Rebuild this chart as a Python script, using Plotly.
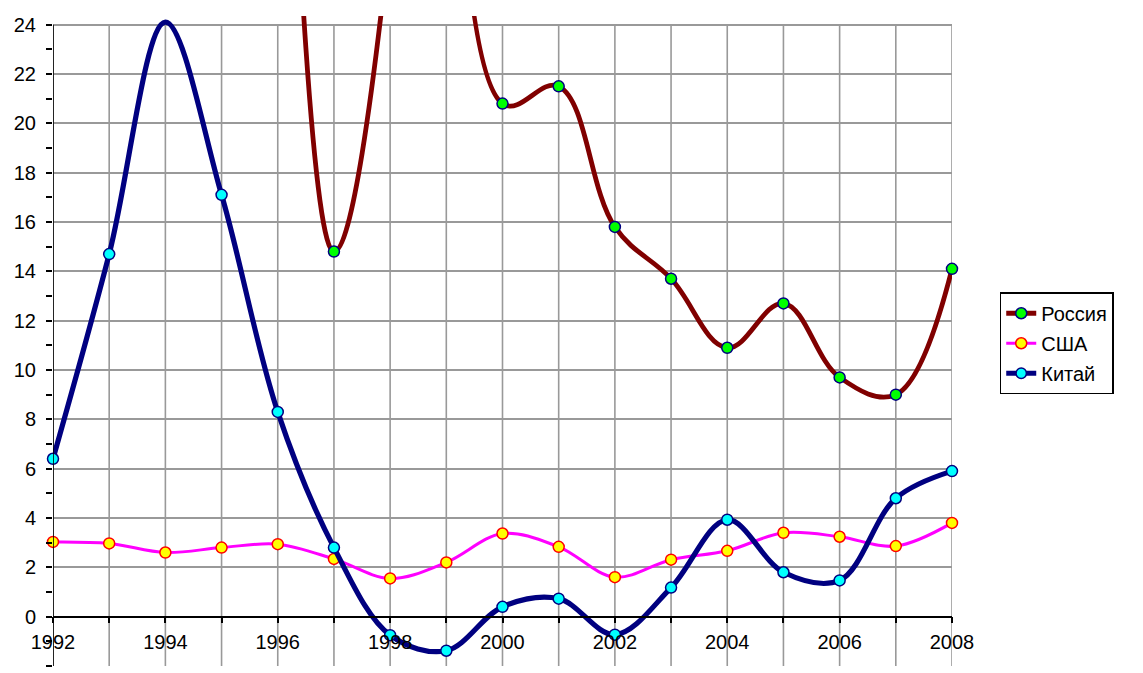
import plotly.graph_objects as go

years = list(range(1992, 2009))
russia = [None, None, None, None, 47.7, 14.8, 27.7, 85.7, 20.8, 21.5, 15.8, 13.7, 10.9, 12.7, 9.7, 9.0, 14.1]
usa = [3.03, 2.97, 2.6, 2.8, 2.94, 2.34, 1.55, 2.2, 3.37, 2.83, 1.6, 2.31, 2.67, 3.4, 3.24, 2.86, 3.8]
china = [6.4, 14.7, 24.1, 17.1, 8.3, 2.8, -0.75, -1.38, 0.4, 0.73, -0.73, 1.18, 3.93, 1.8, 1.47, 4.8, 5.9]

xlabels = [str(y) if y % 2 == 0 else "" for y in years]
ytickvals = list(range(-2, 25, 2))

AX_MIN, AX_MAX = -2, 24          # nominal axis (as in the original)
VIEW_MAX = 24.35                 # lines may run a touch above the top gridline
MS = 11


def sizes(vals):
    # markers outside the nominal axis range are not drawn
    return [MS if (v is None or AX_MIN <= v <= AX_MAX) else 0 for v in vals]


FONT = "Liberation Sans, Arial, sans-serif"
GRID = "#999999"

fig = go.Figure()
fig.add_trace(go.Scatter(
    x=years, y=russia, name="Россия", mode="lines+markers", legendgroup="ru",
    line=dict(color="#800000", width=4.8, shape="spline", smoothing=1.1),
    marker=dict(color="#00ff00", size=MS, opacity=1, line=dict(color="#000080", width=1.5)),
    cliponaxis=False))
fig.add_trace(go.Scatter(
    x=years, y=usa, name="США", mode="lines+markers", legendgroup="us",
    line=dict(color="#ff00ff", width=3, shape="spline", smoothing=1),
    marker=dict(color="#ffff00", size=MS, opacity=1, line=dict(color="#ff0000", width=1.5)),
    cliponaxis=False))
fig.add_trace(go.Scatter(
    x=years, y=china, name="Китай", mode="lines+markers", legendgroup="cn",
    line=dict(color="#000080", width=5.2, shape="spline", smoothing=1),
    marker=dict(color="#00ffff", size=sizes(china), opacity=1, line=dict(color="#000080", width=1.5)),
    cliponaxis=False))

shapes = []
for yr in years:
    shapes.append(dict(type="line", xref="x", yref="y", x0=yr, x1=yr, y0=AX_MIN, y1=AX_MAX,
                       line=dict(color=GRID, width=1.6), layer="below"))
shapes.append(dict(type="line", xref="x", yref="y", x0=years[0], x1=years[0], y0=AX_MIN, y1=AX_MAX,
                   line=dict(color="black", width=1.6), layer="above"))

# page has an 8px body margin; figure is sized/offset accordingly
fig.update_layout(
    width=1135, height=665,
    margin=dict(l=40, r=191, t=5.3, b=7),
    paper_bgcolor="white", plot_bgcolor="white",
    font=dict(family=FONT, size=20, color="black"),
    showlegend=True,
    legend=dict(x=1.0531, y=0.575, xanchor="left", yanchor="top",
                bordercolor="black", borderwidth=1.5,
                font=dict(size=20, family=FONT), tracegroupgap=1,
                traceorder="grouped", bgcolor="white"),
    xaxis=dict(range=[1992, 2008], tickmode="array", tickvals=years, ticktext=xlabels,
               showgrid=False,
               ticks="outside", ticklen=6, tickcolor="black", tickwidth=1.5,
               showline=True, linecolor="black", linewidth=1.6,
               anchor="free", position=(0 - AX_MIN) / (VIEW_MAX - AX_MIN),
               ticklabelstandoff=2, zeroline=False,
               tickfont=dict(size=20, family=FONT)),
    yaxis=dict(range=[AX_MIN, VIEW_MAX], tickmode="array", tickvals=ytickvals,
               showgrid=True, gridcolor=GRID, gridwidth=1.6,
               ticks="outside", ticklen=6, tickcolor="black", tickwidth=1.5,
               showline=False, zeroline=False,
               ticklabelstandoff=6,
               minor=dict(dtick=1, ticks="outside", ticklen=6, tickcolor="black", showgrid=False),
               tickfont=dict(size=20, family=FONT)),
    shapes=shapes,
)
fig.write_html("out.html")
